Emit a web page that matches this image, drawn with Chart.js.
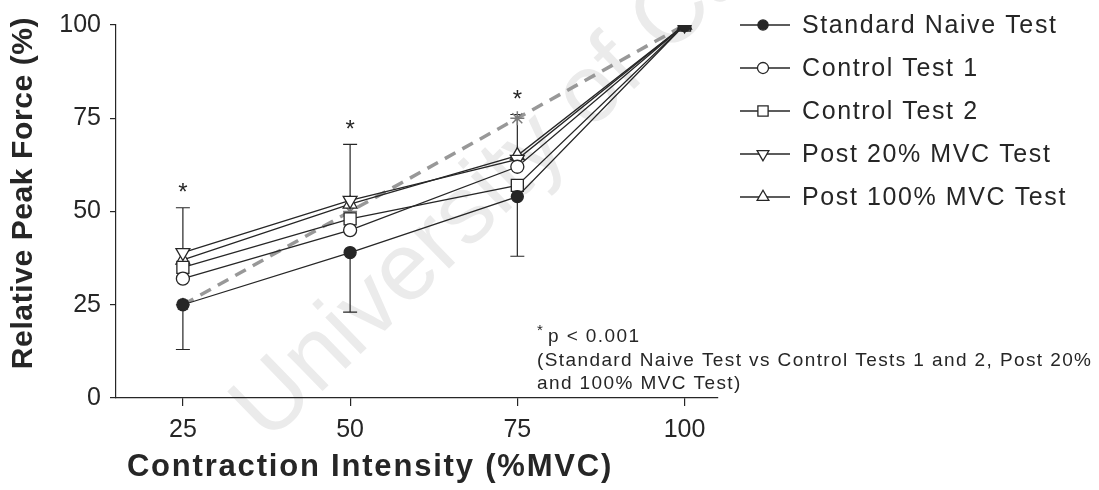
<!DOCTYPE html>
<html>
<head>
<meta charset="utf-8">
<title>Relative Peak Force</title>
<script src="https://cdn.jsdelivr.net/npm/chart.js@4"></script>
<style>
  html, body { margin: 0; padding: 0; background: #fff; }
  #wrap { width: 1099px; height: 490px; }
</style>
</head>
<body>
<div id="wrap"><canvas id="forceChart"></canvas></div>
<script>
// Kontraktionsintensitet (% MVC) på x-axeln
const intensities = [25, 50, 75, 100];

// Relativ toppkraft (%) per test
const standardNaive = [25, 39, 54, 100];
const controlTest1 = [32, 45, 62, 100];
const controlTest2 = [35, 48, 57, 100];
const post20Mvc = [39, 53, 64, 100];
const post100Mvc = [37, 52, 65, 100];
const identityLine = [25, 50, 75, 100];

// Felstaplar: nedåt från naiva testet, uppåt från post 20%-testet
const naiveErrDown = [12, 16, 16, 0];
const post20ErrUp = [12, 15, 12, 0];

// Intensiteter med signifikant skillnad (*)
const significantAt = [25, 50, 75];

const xTicks = [25, 50, 75, 100];
const yTicks = [0, 25, 50, 75, 100];

const xTitle = 'Contraction Intensity (%MVC)';
const yTitle = 'Relative Peak Force (%)';
const noteLines = ['p < 0.001', '(Standard Naive Test vs Control Tests 1 and 2, Post 20%', 'and 100% MVC Test)'];

const FONT = '"Liberation Sans", Arial, sans-serif';
const INK = '#262626';

function toPoints(values) {
  return intensities.map((x, i) => ({ x: x, y: values[i] }));
}

function series(label, values, style) {
  return Object.assign({
    label: label,
    data: toPoints(values),
    showLine: true,
    borderColor: INK,
    borderWidth: 1.3,
    pointBorderColor: INK,
    pointBackgroundColor: '#fff',
    pointBorderWidth: 1.3,
    pointRadius: 6.5
  }, style);
}

// Bakgrund och vattenstämpel
const backdrop = {
  id: 'backdrop',
  beforeDraw(chart) {
    const ctx = chart.ctx;
    ctx.save();
    ctx.fillStyle = '#fff';
    ctx.fillRect(0, 0, chart.width, chart.height);
    ctx.translate(268, 444);
    ctx.rotate(-0.77);
    ctx.font = '96px ' + FONT;
    ctx.fillStyle = '#ebebeb';
    ctx.fillText('University of Cape Town', 0, 0);
    ctx.restore();
  }
};

// Felstaplar ritas under markörerna
const errorBars = {
  id: 'errorBars',
  beforeDatasetsDraw(chart) {
    const ctx = chart.ctx;
    const xs = chart.scales.x, ys = chart.scales.y;
    ctx.save();
    ctx.strokeStyle = INK;
    ctx.lineWidth = 1.2;
    intensities.forEach((x, i) => {
      const px = xs.getPixelForValue(x);
      const bars = [
        [standardNaive[i], standardNaive[i] - naiveErrDown[i], naiveErrDown[i]],
        [post20Mvc[i], post20Mvc[i] + post20ErrUp[i], post20ErrUp[i]]
      ];
      bars.forEach(([from, to, err]) => {
        if (!err) return;
        const y0 = ys.getPixelForValue(from), y1 = ys.getPixelForValue(to);
        ctx.beginPath();
        ctx.moveTo(px, y0);
        ctx.lineTo(px, y1);
        ctx.moveTo(px - 7, y1);
        ctx.lineTo(px + 7, y1);
        ctx.stroke();
      });
    });
    ctx.restore();
  }
};

// Axeltitlar, stjärnor, förklaring och legend
const annotations = {
  id: 'annotations',
  afterDraw(chart) {
    const ctx = chart.ctx;
    const area = chart.chartArea;
    const xs = chart.scales.x, ys = chart.scales.y;
    ctx.save();
    ctx.fillStyle = INK;
    ctx.textAlign = 'center';
    ctx.textBaseline = 'middle';

    // axeltitlar (spärrad text)
    ctx.letterSpacing = '1.8px';
    ctx.font = 'bold 31px ' + FONT;
    ctx.fillText(xTitle, area.left + 254, 467);
    ctx.save();
    ctx.translate(24, area.top + 168);
    ctx.rotate(-Math.PI / 2);
    ctx.letterSpacing = '0.6px';
    ctx.font = 'bold 30px ' + FONT;
    ctx.fillText(yTitle, 0, 0);
    ctx.restore();

    ctx.letterSpacing = '0px';
    ctx.font = '24px ' + FONT;
    significantAt.forEach(x => {
      const i = intensities.indexOf(x);
      const top = ys.getPixelForValue(post20Mvc[i] + post20ErrUp[i]);
      ctx.fillText('*', xs.getPixelForValue(x), top - 14);
    });

    // p-värdestext
    ctx.textAlign = 'left';
    ctx.letterSpacing = '1.4px';
    ctx.font = '15px ' + FONT;
    ctx.fillText('*', 537, 331);
    ctx.font = '19px ' + FONT;
    ctx.fillText(noteLines[0], 548, 337);
    ctx.fillText(noteLines[1], 537, 361);
    ctx.fillText(noteLines[2], 537, 384);

    // legend: linje med markör i mitten
    ctx.letterSpacing = '1.6px';
    ctx.font = '25px ' + FONT;
    chart.data.datasets.slice(0, 5).forEach((ds, i) => {
      const y = 25 + i * 43;
      ctx.strokeStyle = INK;
      ctx.lineWidth = 1.3;
      ctx.beginPath();
      ctx.moveTo(740, y);
      ctx.lineTo(790, y);
      ctx.stroke();
      ctx.fillStyle = ds.pointBackgroundColor;
      ctx.lineWidth = ds.pointBorderWidth;
      Chart.helpers.drawPoint(ctx, {
        pointStyle: ds.pointStyle,
        rotation: ds.pointRotation || 0,
        radius: ds.pointRadius * 0.85,
        borderWidth: ds.pointBorderWidth
      }, 763, y);
      ctx.fillStyle = INK;
      ctx.fillText(ds.label, 802, y + 1);
    });
    ctx.restore();
  }
};

const datasets = [
  series('Standard Naive Test', standardNaive, { pointStyle: 'circle', pointBackgroundColor: INK, pointRadius: 6 }),
  series('Control Test 1', controlTest1, { pointStyle: 'circle' }),
  series('Control Test 2', controlTest2, { pointStyle: 'rect', pointRadius: 8.5 }),
  series('Post 20% MVC Test', post20Mvc, { pointStyle: 'triangle', pointRotation: 180, pointRadius: 8 }),
  series('Post 100% MVC Test', post100Mvc, { pointStyle: 'triangle', pointRadius: 8 }),
  {
    label: 'identity',
    data: toPoints(identityLine),
    showLine: true,
    borderColor: '#989898',
    borderWidth: 3.5,
    borderDash: [12, 8],
    pointStyle: 'star',
    pointRadius: 7,
    pointBorderColor: '#7a7a7a',
    pointBorderWidth: 1.5
  }
];

new Chart(document.getElementById('forceChart'), {
  type: 'scatter',
  data: { datasets: datasets },
  plugins: [backdrop, errorBars, annotations],
  options: {
    responsive: true,
    maintainAspectRatio: false,
    animation: false,
    layout: { padding: { top: 25, right: 381, bottom: 0, left: 0 } },
    plugins: {
      legend: { display: false },
      tooltip: { enabled: false }
    },
    scales: {
      x: {
        type: 'linear',
        min: 15,
        max: 105,
        afterFit: s => { s.height = 92; },
        afterBuildTicks: s => { s.ticks = xTicks.map(v => ({ value: v })); },
        border: { color: INK, width: 1.2 },
        grid: { drawOnChartArea: false, drawTicks: true, tickLength: 8, color: INK, lineWidth: 1.2 },
        ticks: { color: INK, padding: 9, font: { family: FONT, size: 25 } }
      },
      y: {
        min: 0,
        max: 100,
        afterFit: s => { s.width = 116; },
        afterBuildTicks: s => { s.ticks = yTicks.map(v => ({ value: v })); },
        border: { color: INK, width: 1.2 },
        grid: { drawOnChartArea: false, drawTicks: true, tickLength: 6, color: INK, lineWidth: 1.2 },
        ticks: { color: INK, padding: 9, font: { family: FONT, size: 25 } }
      }
    }
  }
});
</script>
</body>
</html>
